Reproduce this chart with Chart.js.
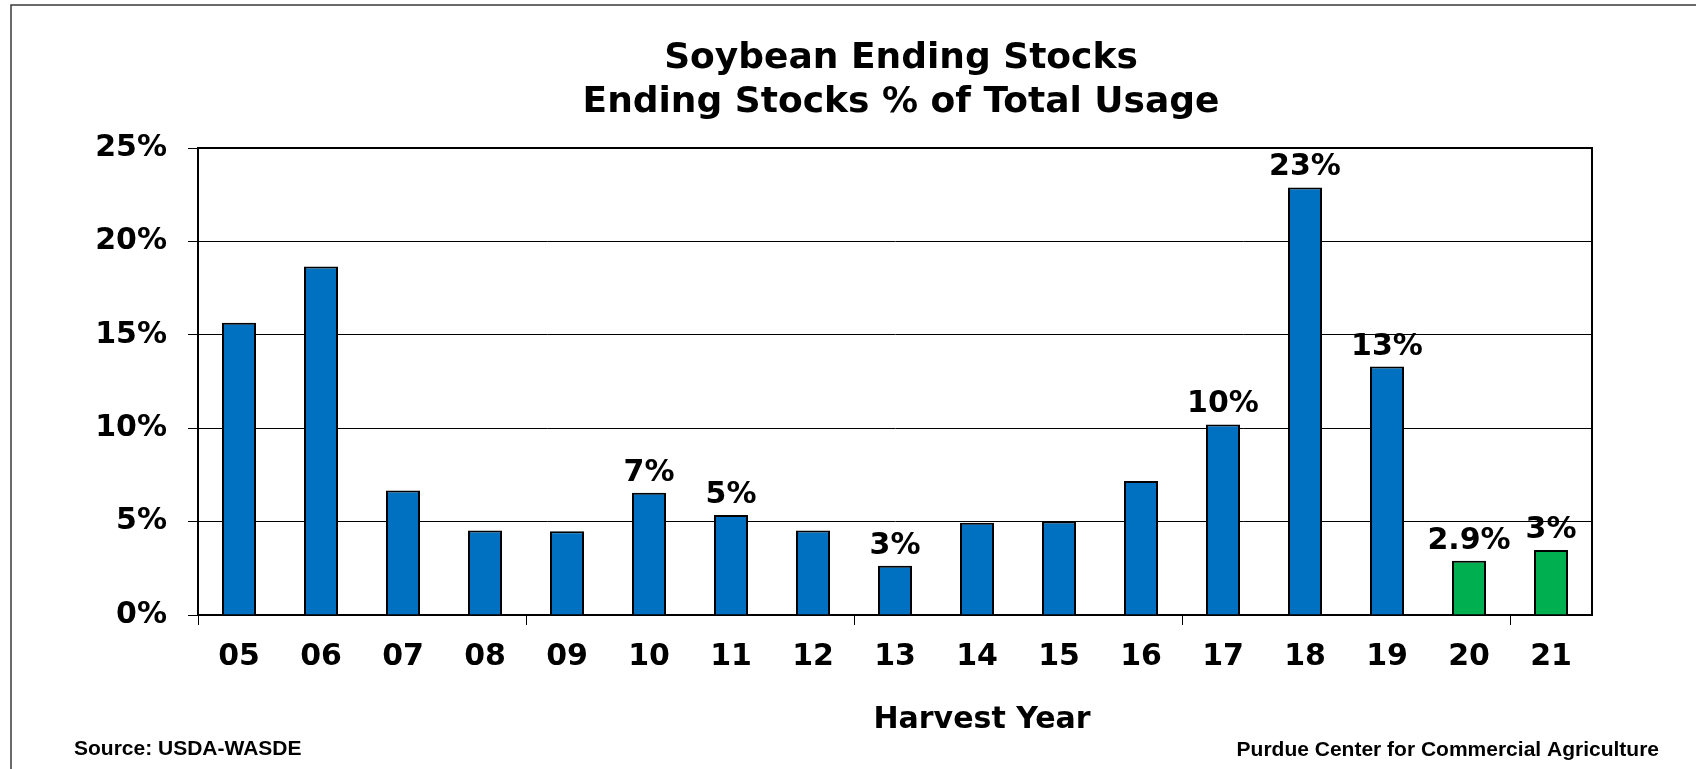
<!DOCTYPE html>
<html>
<head>
<meta charset="utf-8">
<title>Soybean Ending Stocks</title>
<script src="https://cdn.jsdelivr.net/npm/chart.js"></script>
<style>
    html, body { margin: 0; padding: 0; background: #fff; }
    canvas { display: block; }
</style>
</head>
<body>
<canvas id="stocksChart" width="1696" height="769"></canvas>
<script>
    // harvest years, 20 and 21 are projections (green bars)
    const years = ['05', '06', '07', '08', '09', '10', '11', '12', '13', '14', '15', '16', '17', '18', '19', '20', '21'];
    const endingStocksPct = [15.65, 18.66, 6.66, 4.53, 4.48, 6.55, 5.36, 4.53, 2.64, 4.94, 5.0, 7.18, 10.2, 22.89, 13.3, 2.91, 3.48];
    const barLabels = ['', '', '', '', '', '7%', '5%', '', '3%', '', '', '', '10%', '23%', '13%', '2.9%', '3%'];
    const projectedYears = ['20', '21'];
    const yTicks = [0, 5, 10, 15, 20, 25];

    const FONT = '"DejaVu Sans", Verdana, sans-serif';
    const ARIAL = '"Liberation Sans", Arial, sans-serif';
    Chart.defaults.font.family = FONT;
    Chart.defaults.color = '#000';

    // labels over some of the bars
    const valueLabels = {
        id: 'valueLabels',
        afterDatasetsDraw(chart) {
            const ctx = chart.ctx;
            const meta = chart.getDatasetMeta(0);
            ctx.save();
            ctx.font = 'bold 30px ' + FONT;
            ctx.fillStyle = '#000';
            ctx.textAlign = 'center';
            ctx.textBaseline = 'alphabetic';
            meta.data.forEach((bar, i) => {
                if (!barLabels[i]) return;
                ctx.fillText(barLabels[i], bar.x, bar.y - 12);
            });
            ctx.restore();
        }
    };

    // plot box, outer frame, titles and footnotes
    const frameAndText = {
        id: 'frameAndText',
        afterDraw(chart) {
            const ctx = chart.ctx;
            const a = chart.chartArea;
            ctx.save();
            ctx.strokeStyle = '#000';
            ctx.lineWidth = 2;
            ctx.beginPath();
            ctx.moveTo(a.left, a.top);
            ctx.lineTo(a.right, a.top);
            ctx.lineTo(a.right, a.bottom);
            ctx.stroke();

            ctx.strokeStyle = '#3a3a3a';
            ctx.lineWidth = 1.5;
            ctx.strokeRect(11, 5, chart.width + 20, chart.height + 20);

            ctx.fillStyle = '#000';
            ctx.textAlign = 'center';
            ctx.font = 'bold 36px ' + FONT;
            ctx.fillText('Soybean Ending Stocks', 901, 68);
            ctx.fillText('Ending Stocks % of Total Usage', 901, 112);

            ctx.font = 'bold 30px ' + FONT;
            ctx.fillText('Harvest Year', 982, 728);

            ctx.font = 'bold 21px ' + ARIAL;
            ctx.textAlign = 'left';
            ctx.fillText('Source: USDA-WASDE', 74, 755);
            ctx.textAlign = 'right';
            ctx.fillText('Purdue Center for Commercial Agriculture', 1659, 756);
            ctx.restore();
        }
    };

    new Chart(document.getElementById('stocksChart'), {
        type: 'bar',
        data: {
            labels: years,
            datasets: [{
                data: endingStocksPct,
                backgroundColor: years.map(y => projectedYears.includes(y) ? '#00B050' : '#0070C0'),
                borderColor: '#000',
                borderWidth: 2,
                barPercentage: 0.415,
                categoryPercentage: 1
            }]
        },
        options: {
            responsive: false,
            animation: false,
            layout: { padding: { top: 148, left: 10, right: 104, bottom: 0 } },
            plugins: {
                legend: { display: false },
                tooltip: { enabled: false },
                title: { display: false }
            },
            scales: {
                x: {
                    offset: true,
                    grid: {
                        offset: true,
                        drawOnChartArea: false,
                        tickLength: 10,
                        color: c => (c.index !== undefined && c.index % 4 === 0) ? '#000' : 'transparent'
                    },
                    border: { display: true, color: '#000', width: 2 },
                    ticks: {
                        font: { size: 30, weight: 'bold' },
                        color: '#000',
                        padding: 14,
                        maxRotation: 0,
                        autoSkip: false
                    },
                    afterFit(scale) { scale.height = 154; }
                },
                y: {
                    min: 0,
                    max: 25,
                    afterBuildTicks(scale) { scale.ticks = yTicks.map(v => ({ value: v })); },
                    grid: { color: '#000', lineWidth: 1, tickLength: 10 },
                    border: { display: true, color: '#000', width: 2 },
                    ticks: {
                        font: { size: 30, weight: 'bold' },
                        color: '#000',
                        padding: 21,
                        callback: v => v + '%'
                    },
                    afterFit(scale) { scale.width = 188; }
                }
            }
        },
        plugins: [valueLabels, frameAndText]
    });
</script>
</body>
</html>
